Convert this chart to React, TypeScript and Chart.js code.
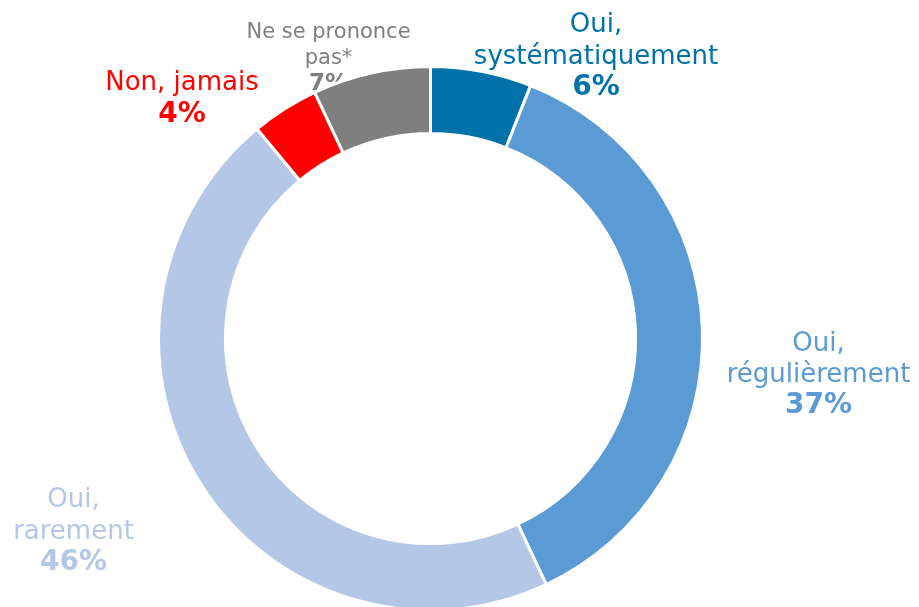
import React, { useEffect, useRef } from "react";
import { Chart, registerables } from "chart.js";

Chart.register(...registerables);

const categories = [
  ["Oui,", "systématiquement"],
  ["Oui,", "régulièrement"],
  ["Oui,", "rarement"],
  ["Non, jamais"],
  ["Ne se prononce", "pas*"],
];
const values = [6, 37, 46, 4, 7];
const percentLabels = ["6%", "37%", "46%", "4%", "7%"];
const colors = ["#0072AA", "#5B9BD5", "#B4C7E7", "#FF0000", "#7F7F7F"];

// label placement: offset of first baseline from doughnut centre, font size, line height
const labelLayout = [
  { dx: 165.5, dy: -306.5, size: 26, bold: 28, lh: 31.5 },
  { dx: 388, dy: 12.5, size: 26, bold: 28, lh: 31 },
  { dx: -357, dy: 168.5, size: 26, bold: 28, lh: 31.5 },
  { dx: -248.5, dy: -248.5, size: 26, bold: 28, lh: 32 },
  { dx: -102, dy: -300.5, size: 21, bold: 23, lh: 26 },
];

const labelPlugin = {
  id: "outerLabels",
  beforeDatasetsDraw(chart: any) {
    const meta = chart.getDatasetMeta(0);
    const ctx = chart.ctx;
    ctx.save();
    ctx.textAlign = "center";
    ctx.textBaseline = "alphabetic";
    meta.data.forEach((arc: any, i: number) => {
      const L = labelLayout[i];
      const cx = arc.x + L.dx;
      let y = arc.y + L.dy;
      ctx.fillStyle = colors[i];
      ctx.font = `${L.size}px "DejaVu Sans", Verdana, sans-serif`;
      for (const line of categories[i]) {
        ctx.fillText(line, cx, y);
        y += L.lh;
      }
      ctx.font = `bold ${L.bold}px "DejaVu Sans", Verdana, sans-serif`;
      ctx.fillText(percentLabels[i], cx, y);
    });
    ctx.restore();
  },
};

export default function App() {
  const ref = useRef<HTMLCanvasElement>(null);
  useEffect(() => {
    if (!ref.current) return;
    const chart = new Chart(ref.current, {
      type: "doughnut",
      data: {
        labels: categories.map((c) => c.join(" ")),
        datasets: [
          {
            data: values,
            backgroundColor: colors,
            borderColor: "#FFFFFF",
            borderWidth: 3,
            hoverOffset: 0,
          },
        ],
      },
      options: {
        responsive: false,
        devicePixelRatio: 1,
        animation: false,
        radius: 272,
        cutout: "75.4%",
        layout: { padding: { left: 0, right: 58, top: 70, bottom: 0 } },
        plugins: {
          legend: { display: false },
          tooltip: { enabled: false },
        },
      } as any,
      plugins: [labelPlugin],
    });
    return () => chart.destroy();
  }, []);
  return (
    <div style={{ position: "absolute", left: 0, top: 0, width: 919, height: 607, background: "#fff" }}>
      <canvas ref={ref} width={919} height={607} />
    </div>
  );
}
